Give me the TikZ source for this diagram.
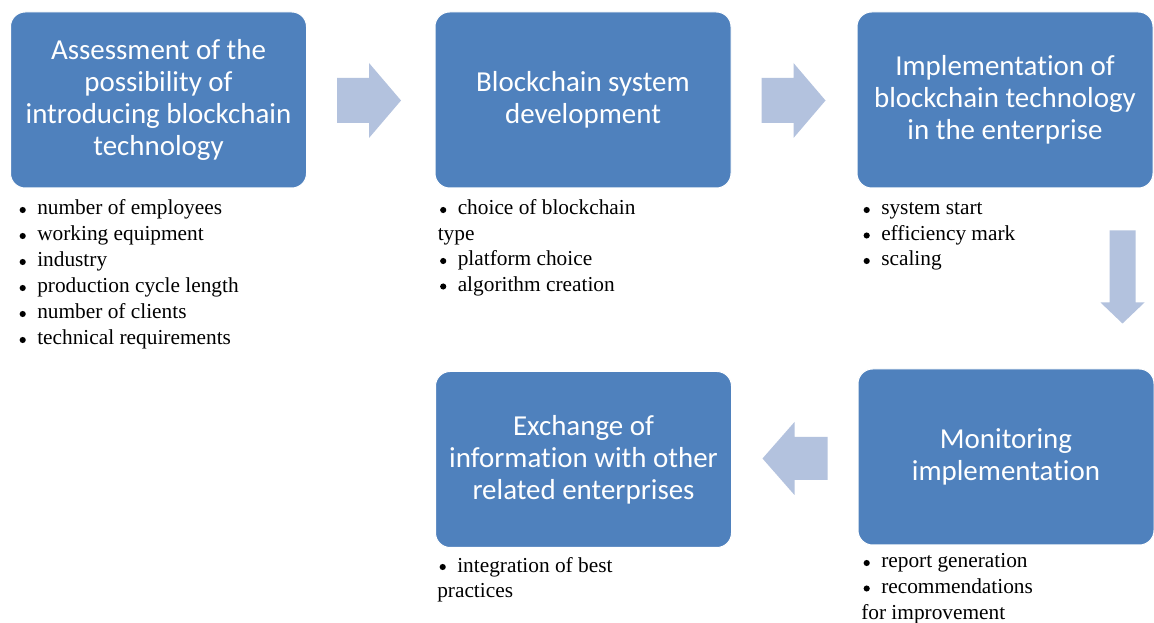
\documentclass[tikz,border=0pt]{standalone}
\usepackage{fontspec}
\setmainfont{Liberation Serif}
\newfontfamily\stagefont[Ligatures=NoCommon]{Carlito}
\usetikzlibrary{calc}
\definecolor{stageblue}{HTML}{4F81BD}
\definecolor{flowblue}{HTML}{B3C2DE}
% round bullet in front of an item node
\newcommand\dotbefore[1]{\fill (#1.base west) ++(-14.3,-5) circle (2.3pt);}

\begin{document}
\begin{tikzpicture}[x=0.75pt,y=-0.75pt,
  stage/.style={fill=stageblue, draw=white, line width=0.75pt,
    rounded corners=11pt, minimum width=222pt, minimum height=132pt,
    inner sep=0pt, align=center, text=white,
    font=\stagefont\fontsize{21.7pt}{24pt}\selectfont},
  item/.style={anchor=base west, inner sep=0pt,
    font=\fontsize{16pt}{19.5pt}\selectfont},
  pics/blockarrow/.style n args={4}{code={
    \fill[flowblue] (0,-#3) -- (#1-#2,-#3) -- (#1-#2,-#4) -- (#1,0)
      -- (#1-#2,#4) -- (#1-#2,#3) -- (0,#3) -- cycle;}}
]
\fill[white] (0,0) rectangle (1154,623);
\useasboundingbox (0,0) rectangle (1154,623);

% process stages
\node[stage] (b1) at (158.5,100) {Assessment of the\\possibility of\\introducing blockchain\\technology};
\node[stage] (b2) at (583,100) {Blockchain system\\development};
\node[stage] (b3) at (1005,100) {Implementation of\\blockchain technology\\in the enterprise};
\node[stage] (b5) at (1006,457) {Monitoring\\implementation};
\node[stage] (b4) at (583.5,459.5) {Exchange of\\information with other\\related enterprises};

% flow arrows between the stages
\pic at ($(b1.east)+(30,0.5)$) {blockarrow={64}{32}{22.5}{37.5}};
\pic at ($(b2.east)+(30,0.5)$) {blockarrow={64}{32}{22.5}{37.5}};
\pic[rotate=-90] at ($(b3.south east)+(-31,42)$) {blockarrow={93}{21}{13}{22}};
\pic[rotate=180] at ($(b5.west)+(-30,1.5)$) {blockarrow={65}{32}{21.5}{36.5}};

% details of the assessment stage
\node[item] (a1) at (37,215) {number of employees};
\node[item] (a2) at (37,241) {working equipment};
\node[item] (a3) at (37,267) {industry};
\node[item] (a4) at (37,293) {production cycle length};
\node[item] (a5) at (37,319) {number of clients};
\node[item] (a6) at (37,345) {technical requirements};
\foreach \n in {a1,a2,a3,a4,a5,a6} {\dotbefore{\n}}

% details of the development stage
\node[item] (d1) at (457.5,215) {choice of blockchain};
\node[item] (d2) at (437.5,240.5) {type};
\node[item] (d3) at (457.5,266) {platform choice};
\node[item] (d4) at (457.5,291.5) {algorithm creation};
\foreach \n in {d1,d3,d4} {\dotbefore{\n}}

% details of the implementation stage
\node[item] (i1) at (881,215) {system start};
\node[item] (i2) at (881,240.5) {efficiency mark};
\node[item] (i3) at (881,266) {scaling};
\foreach \n in {i1,i2,i3} {\dotbefore{\n}}

% details of the exchange stage
\node[item] (e1) at (457,572) {integration of best};
\node[item] (e2) at (437,597.5) {practices};
\dotbefore{e1}

% details of the monitoring stage
\node[item] (m1) at (881,568) {report generation};
\node[item] (m2) at (881,593.5) {recommendations};
\node[item] (m3) at (861,619) {for improvement};
\foreach \n in {m1,m2} {\dotbefore{\n}}
\end{tikzpicture}
\end{document}
